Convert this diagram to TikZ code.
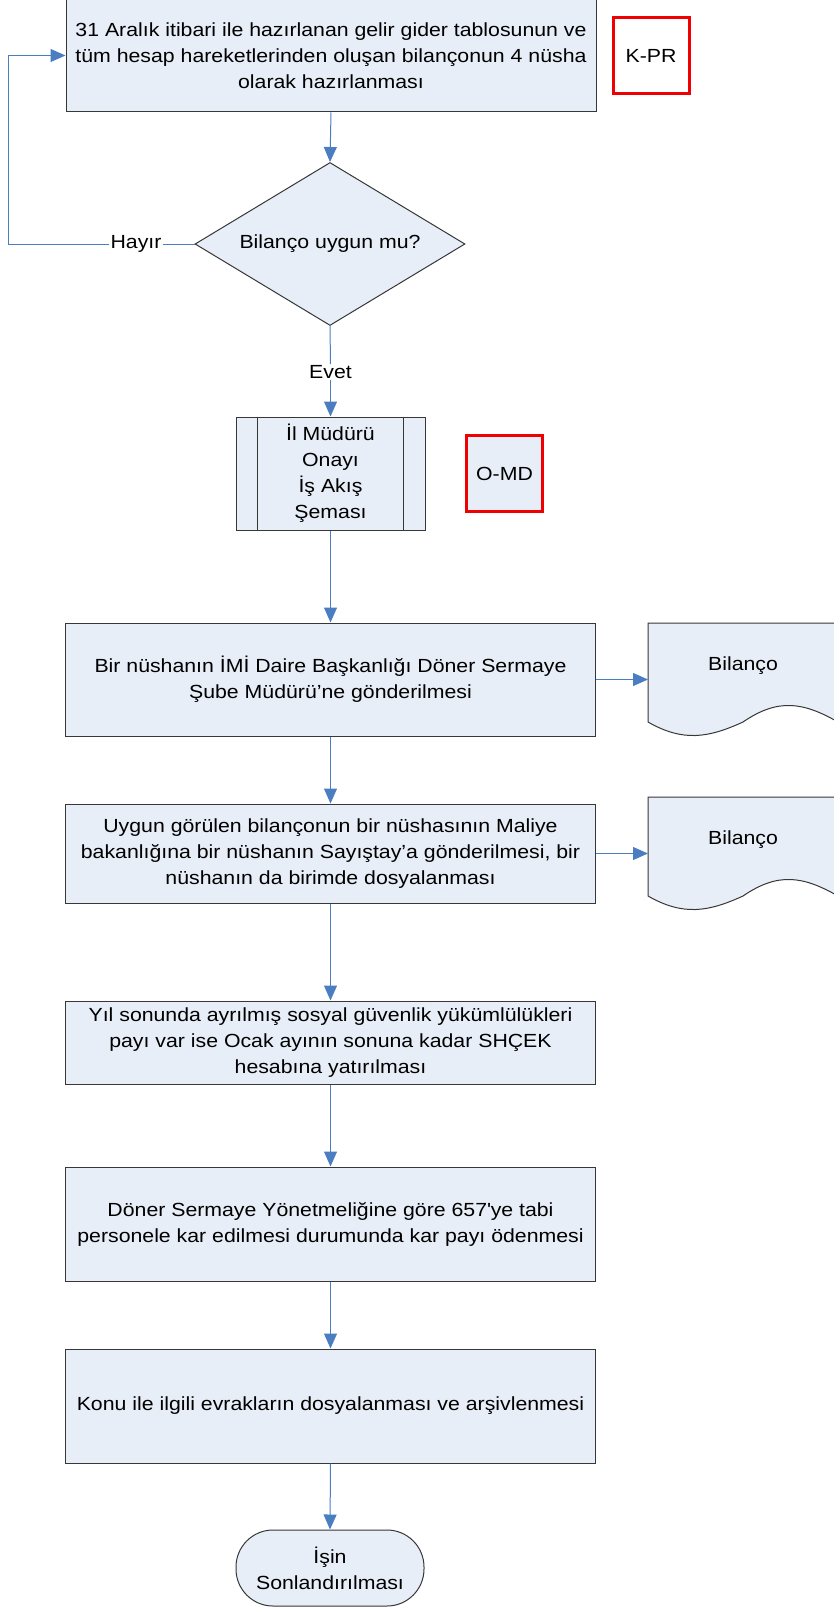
\documentclass[tikz,border=0pt]{standalone}
\usepackage{fontspec}
\setmainfont{Liberation Sans}[FakeStretch=1.12]
\usepackage{xcolor}
\usetikzlibrary{shapes,arrows.meta,positioning,calc}
\definecolor{boxfill}{RGB}{232,238,247}
\definecolor{flowblue}{RGB}{74,126,193}
\definecolor{edgegray}{RGB}{55,55,55}
\definecolor{codered}{RGB}{240,0,0}

\tikzset{
  every node/.style={font=\fontsize{19}{26}\selectfont},
  process/.style={rectangle,draw=edgegray,line width=1pt,fill=boxfill,align=center,
    minimum width=530pt,inner sep=0pt},
  decision/.style={diamond,draw=edgegray,line width=1pt,fill=boxfill,
    minimum width=270pt,minimum height=163pt,aspect=1.66,inner sep=0pt},
  subproc/.style={rectangle,draw=edgegray,line width=1pt,fill=boxfill,align=center,
    minimum width=189pt,minimum height=113pt,inner sep=0pt},
  codebox/.style={rectangle,draw=codered,line width=3pt,minimum width=76pt,
    minimum height=76pt,inner sep=0pt},
  term/.style={rectangle,rounded corners=37pt,draw=edgegray,line width=1pt,
    fill=boxfill,align=center,minimum width=188pt,minimum height=76pt,inner sep=0pt},
  docline/.style={draw=edgegray,line width=1pt,fill=boxfill},
  line/.style={draw=flowblue,line width=1pt},
  arrow/.style={line,-{Triangle[length=15pt,width=13pt]}},
  answer/.style={fill=white,inner sep=1pt}
}

\begin{document}
\begin{tikzpicture}[x=1pt,y=-1pt]
  \useasboundingbox (0,0) rectangle (834,1608);

  % Documents (drawn first, text on top)
  \foreach \y in {666,840} {
    \begin{scope}[shift={(743,\y)}]
      \draw[docline] (-95,-43) -- (95,-43) -- (95,56)
        .. controls (60,36) and (35,32) .. (0,56)
        .. controls (-35,72) and (-60,76) .. (-95,56) -- cycle;
    \end{scope}
  }

  % Steps
  \node[process,minimum height=113pt] (hazir) at (331,55.5)
    {31 Aralık itibari ile hazırlanan gelir gider tablosunun ve\\
     tüm hesap hareketlerinden oluşan bilançonun 4 nüsha\\
     olarak hazırlanması};
  \node[codebox,fill=white] (kpr) at (651,56) {K-PR};

  \node[decision] (uygunmu) at (330,244) {Bilanço uygun mu?};
  \node[answer] (hayir) at (136,244) {Hayır};
  \node[answer] (evet) at (330.5,372) {Evet};
  \coordinate (geri) at (8,244);

  \node[subproc] (onay) at (330.5,473.5) {İl Müdürü\\Onayı\\İş Akış\\Şeması};
  \draw[edgegray,line width=1pt] ($(onay.north west)+(22,0)$) -- ($(onay.south west)+(22,0)$);
  \draw[edgegray,line width=1pt] ($(onay.north east)+(-22,0)$) -- ($(onay.south east)+(-22,0)$);
  \node[codebox,fill=boxfill] (omd) at (504.5,473.5) {O-MD};

  \node[process,minimum height=113pt] (gonder) at (330.5,679.5)
    {Bir nüshanın İMİ Daire Başkanlığı Döner Sermaye\\
     Şube Müdürü’ne gönderilmesi};
  \node (doc1) at (743,666) {Bilanço};

  \node[process,minimum height=99pt] (dagit) at (330.5,853.5)
    {Uygun görülen bilançonun bir nüshasının Maliye\\
     bakanlığına bir nüshanın Sayıştay’a gönderilmesi, bir\\
     nüshanın da birimde dosyalanması};
  \node (doc2) at (743,840) {Bilanço};

  \node[process,minimum height=83pt] (shcek) at (330.5,1042.5)
    {Yıl sonunda ayrılmış sosyal güvenlik yükümlülükleri\\
     payı var ise Ocak ayının sonuna kadar SHÇEK\\
     hesabına yatırılması};

  \node[process,minimum height=114pt] (karpayi) at (330.5,1224)
    {Döner Sermaye Yönetmeliğine göre 657\textquotesingle ye tabi\\
     personele kar edilmesi durumunda kar payı ödenmesi};

  \node[process,minimum height=114pt] (arsiv) at (330.5,1406)
    {Konu ile ilgili evrakların dosyalanması ve arşivlenmesi};

  \node[term] (son) at (330,1568) {İşin\\Sonlandırılması};

  % Connectors
  \draw[arrow] (hazir.south) -- (uygunmu.north);
  \draw[line] (uygunmu.west) -- (hayir.east);
  \draw[arrow] (hayir.west) -- (geri) |- (hazir.west);
  \draw[line] (uygunmu.south) -- (evet.north);
  \draw[arrow] (evet.south) -- (onay.north);
  \draw[arrow] (onay.south) -- (gonder.north);
  \draw[arrow] (gonder.east) -- (gonder.east -| 648,0);
  \draw[arrow] (gonder.south) -- (dagit.north);
  \draw[arrow] (dagit.east) -- (dagit.east -| 648,0);
  \draw[arrow] (dagit.south) -- (shcek.north);
  \draw[arrow] (shcek.south) -- (karpayi.north);
  \draw[arrow] (karpayi.south) -- (arsiv.north);
  \draw[arrow] (arsiv.south) -- (son.north);

\end{tikzpicture}
\end{document}
